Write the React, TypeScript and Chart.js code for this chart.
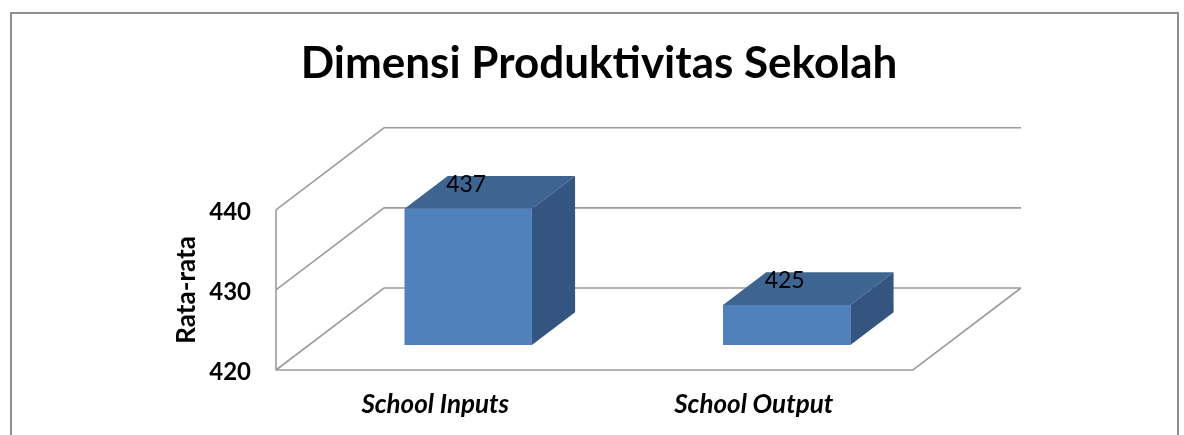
import React, { useEffect, useRef } from "react";
import { Chart, registerables } from "chart.js";

Chart.register(...registerables);

const categories = ["School Inputs", "School Output"];
const values = [437, 425];
const yMin = 420;
const yMax = 440;
const yStep = 10;
const chartTitle = "Dimensi Produktivitas Sekolah";
const yAxisTitle = "Rata-rata";

// 3D look (styling constants)
const DEPTH_X = 108;
const DEPTH_Y = -82;
const BAR_FRONT = 0.305;
const BAR_DEPTH = 0.4;
const FRONT_COLOR = "#4F81BD";
const TOP_COLOR = "#3E6491";
const SIDE_COLOR = "#33557F";
const GRID_COLOR = "#9c9c9c";
const FONT = "Lato";

const frame3d = {
  id: "frame3d",
  beforeDraw(chart: any) {
    const ctx = chart.ctx;
    ctx.save();
    ctx.strokeStyle = "#8e8e8e";
    ctx.lineWidth = 2;
    ctx.strokeRect(11, 13, 1167, 450);
    ctx.restore();
  },
  beforeDatasetsDraw(chart: any) {
    const { ctx, chartArea, scales } = chart;
    const { left, right, bottom } = chartArea;
    const y = scales.y;
    ctx.save();
    ctx.strokeStyle = GRID_COLOR;
    ctx.lineWidth = 1.6;
    ctx.beginPath();
    y.ticks.forEach((t: any) => {
      const py = y.getPixelForValue(t.value);
      ctx.moveTo(left, py);
      ctx.lineTo(left + DEPTH_X, py + DEPTH_Y);
      ctx.lineTo(right + DEPTH_X, py + DEPTH_Y);
    });
    ctx.moveTo(left, y.getPixelForValue(y.max));
    ctx.lineTo(left, bottom);
    ctx.lineTo(right, bottom);
    ctx.lineTo(right + DEPTH_X, bottom + DEPTH_Y);
    ctx.stroke();
    ctx.restore();
    ctx.save();
    ctx.translate(BAR_FRONT * DEPTH_X, BAR_FRONT * DEPTH_Y);
  },
  afterDatasetsDraw(chart: any) {
    const ctx = chart.ctx;
    const meta = chart.getDatasetMeta(0);
    const dx = BAR_DEPTH * DEPTH_X;
    const dy = BAR_DEPTH * DEPTH_Y;
    meta.data.forEach((bar: any, i: number) => {
      const { x, y, base, width } = bar.getProps(["x", "y", "base", "width"], true);
      const l = x - width / 2;
      const r = x + width / 2;
      ctx.fillStyle = TOP_COLOR;
      ctx.beginPath();
      ctx.moveTo(l, y);
      ctx.lineTo(l + dx, y + dy);
      ctx.lineTo(r + dx, y + dy);
      ctx.lineTo(r, y);
      ctx.closePath();
      ctx.fill();
      ctx.fillStyle = SIDE_COLOR;
      ctx.beginPath();
      ctx.moveTo(r, y);
      ctx.lineTo(r + dx, y + dy);
      ctx.lineTo(r + dx, base + dy);
      ctx.lineTo(r, base);
      ctx.closePath();
      ctx.fill();
      ctx.fillStyle = "#000";
      ctx.font = `23px ${FONT}`;
      ctx.textAlign = "center";
      ctx.textBaseline = "middle";
      ctx.fillText(String(chart.data.datasets[0].data[i]), x - 2, y - 24);
    });
    ctx.restore();
  },
};

export default function App() {
  const ref = useRef<HTMLCanvasElement | null>(null);
  useEffect(() => {
    if (!ref.current) return;
    const chart = new Chart(ref.current, {
      type: "bar",
      data: {
        labels: categories,
        datasets: [
          {
            data: values,
            base: yMin,
            backgroundColor: FRONT_COLOR,
            borderWidth: 0,
            categoryPercentage: 1,
            barPercentage: 0.4,
            clip: false as any,
          } as any,
        ],
      },
      options: {
        animation: false,
        responsive: false,
        layout: { padding: { left: 14, right: 0, top: 0, bottom: 0 } },
        plugins: {
          legend: { display: false },
          tooltip: { enabled: false },
          title: {
            display: true,
            text: chartTitle,
            color: "#000",
            font: { family: FONT, size: 44, weight: "bold" },
            padding: { top: 37, bottom: 120 },
          },
        },
        scales: {
          x: {
            offset: true,
            grid: { display: false, drawTicks: false },
            border: { display: false },
            ticks: {
              color: "#000",
              padding: 19,
              font: { family: FONT, size: 26, weight: "bold", style: "italic" },
            },
            afterFit: (s: any) => {
              s.height = 65;
            },
          },
          y: {
            min: yMin,
            max: yMax,
            grid: { display: false, drawTicks: false },
            border: { display: false },
            ticks: {
              stepSize: yStep,
              color: "#000",
              padding: 25,
              labelOffset: 2,
              font: { family: FONT, size: 24, weight: "bold" },
            },
            title: {
              display: true,
              text: yAxisTitle,
              color: "#000",
              font: { family: FONT, size: 26, weight: "bold" },
              padding: { top: 157, bottom: 0 },
            },
            afterFit: (s: any) => {
              s.width = 262;
            },
          },
          y2: {
            position: "right",
            min: yMin,
            max: yMax,
            grid: { display: false, drawTicks: false },
            border: { display: false },
            ticks: { display: false },
            afterFit: (s: any) => {
              s.width = 271;
            },
          },
        },
      },
      plugins: [frame3d],
    });
    return () => chart.destroy();
  }, []);
  return (
    <div
      style={{
        position: "absolute",
        left: 0,
        top: 0,
        width: 1184,
        height: 435,
        overflow: "hidden",
        background: "#fff",
      }}
    >
      <canvas ref={ref} width={1184} height={435} style={{ display: "block" }} />
    </div>
  );
}
